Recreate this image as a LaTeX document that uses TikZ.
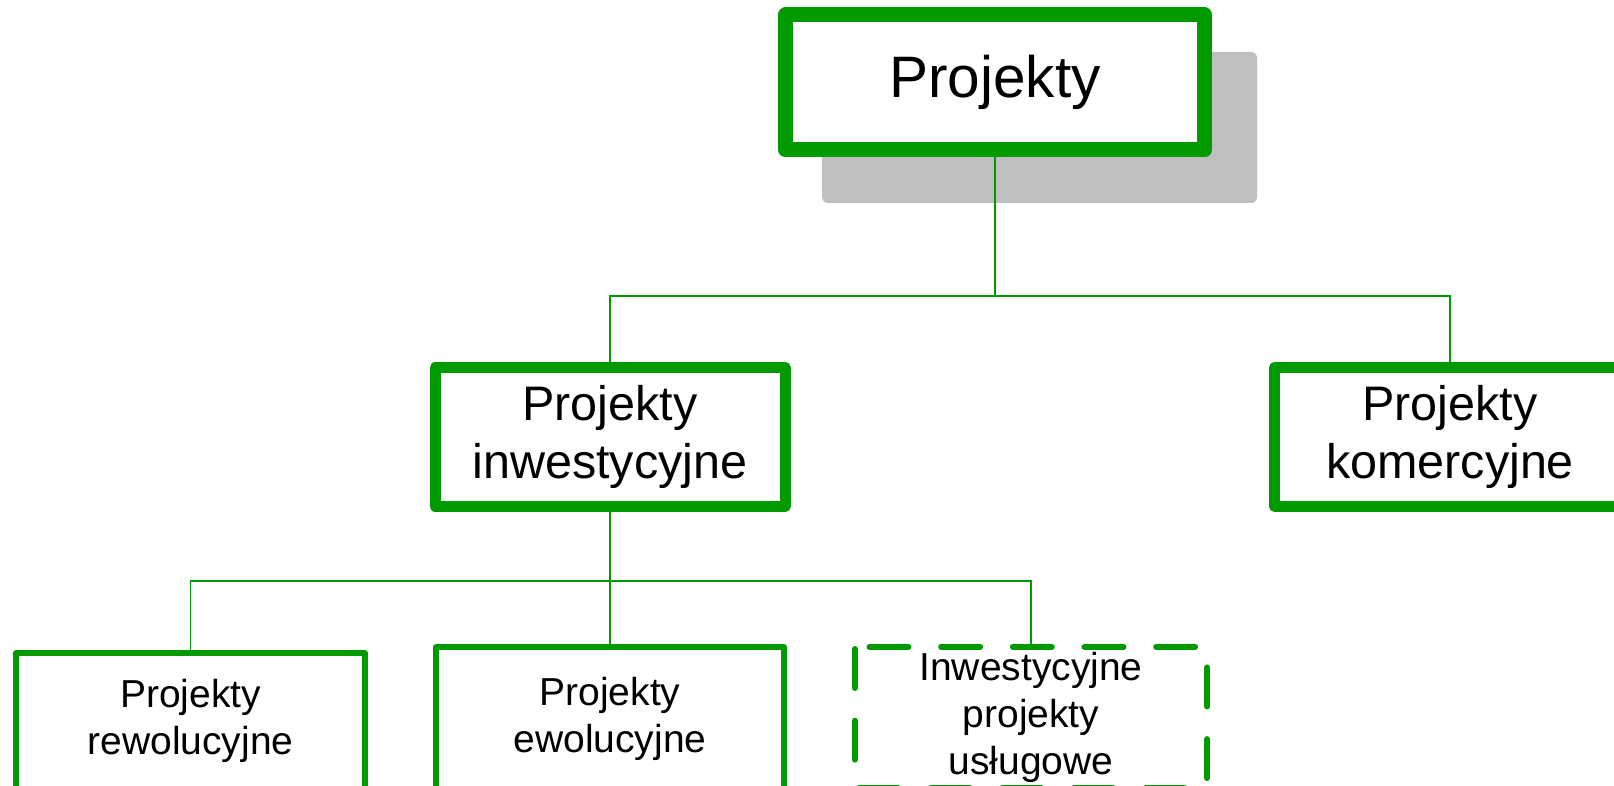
\documentclass[tikz,border=0pt]{standalone}
\usepackage{fontspec}
\setmainfont{Liberation Sans}
\definecolor{boxgreen}{RGB}{0,154,0}
\definecolor{shadowgray}{RGB}{191,191,191}
\tikzset{
  bigbox/.style={draw=boxgreen, line width=15pt, line join=round, fill=white, inner sep=0pt,
    minimum width=419pt, minimum height=135pt, font=\fontsize{58.5}{70}\selectfont},
  midbox/.style={draw=boxgreen, line width=11pt, line join=round, inner sep=0pt, align=center,
    minimum width=350pt, minimum height=139pt, font=\fontsize{48.5}{58}\selectfont},
  smallbox/.style={draw=boxgreen, line width=5.5pt, line join=round, inner sep=0pt, align=center,
    font=\fontsize{39}{47}\selectfont},
  dashbox/.style={draw=boxgreen, line width=6pt, line cap=round,
    dash pattern=on 39pt off 32.67pt, dash phase=57pt},
  shadowbox/.style={fill=shadowgray, draw=none, rounded corners=6pt, inner sep=0pt},
  conn/.style={draw=boxgreen, line width=1.2pt},
}
\begin{document}
\begin{tikzpicture}[x=1pt,y=-1pt]
\useasboundingbox (0,0) rectangle (1614,786);
\clip (0,0) rectangle (1614,786);
\node[shadowbox, minimum width=435pt, minimum height=151pt] (topshadow) at (1039.5,127.5) {};
\node[bigbox] (top) at (995,82.5) {Projekty};
\node[midbox] (inv) at (610,437) {Projekty\\inwestycyjne};
\node[midbox, minimum width=351pt] (kom) at (1450,437) {Projekty\\komercyjne};
\node[smallbox, minimum width=349pt, minimum height=136pt] (rew) at (190.5,721) {Projekty\\rewolucyjne};
\node[smallbox, minimum width=348pt, minimum height=144pt] (ewo) at (610,719) {Projekty\\ewolucyjne};
\node[inner sep=0pt, align=center, font=\fontsize{39}{47}\selectfont,
  minimum width=352pt, minimum height=141pt] (usl) at (1031,717.5) {Inwestycyjne\\projekty\\usługowe};
\draw[dashbox] (usl.north west) -- (usl.north east) -- (usl.south east) -- (usl.south west) -- cycle;
\coordinate (j1) at (995,296);
\coordinate (j2) at (610,581);
\draw[conn] (top.south) -- (j1);
\draw[conn] (inv.north) |- (j1) -| (kom.north);
\draw[conn] (inv.south) -- (j2);
\draw[conn] (rew.north) |- (j2) -| (usl.north);
\draw[conn] (ewo.north) -- (j2);
\end{tikzpicture}
\end{document}
